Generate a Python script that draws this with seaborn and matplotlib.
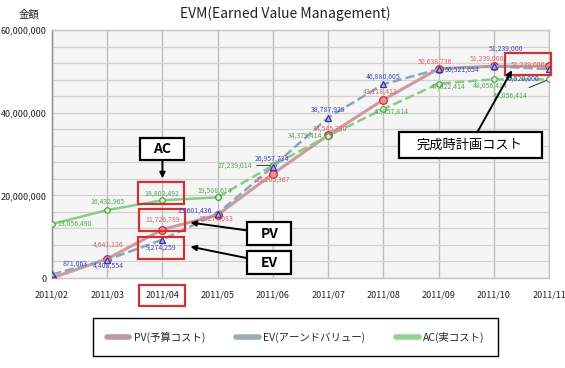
import numpy as np
import pandas as pd
import matplotlib
matplotlib.use("Agg")
import matplotlib.pyplot as plt
from matplotlib.lines import Line2D
from matplotlib.path import Path
from matplotlib.ticker import MultipleLocator, FuncFormatter
from matplotlib.transforms import offset_copy
import seaborn as sns

# ---- data ----
months = ["2011/02", "2011/03", "2011/04", "2011/05", "2011/06",
          "2011/07", "2011/08", "2011/09", "2011/10", "2011/11"]
pv = [0, 4641126, 11726789, 15277083, 25205367, 34545390, 43118413, 50638736, 51239000, 51239000]
ev = [871063, 4408554, 9274259, 15601436, 26957734, 38787929, 46880605, 50521654, 51239000, 50520000]
ac = [13056490, 16432965, 18802492, 19508614, 27239014, 34379414, 40857814, 47022414, 48056414, 48056414]
legend_labels = ["PV(予算コスト)", "EV(アーンドバリュー)", "AC(実コスト)"]

# label offsets in pixels (dx, dy up)
pv_off = [None, (1, 14), (0, 10), (-2, -4), (0, -6), (2, 7), (-3, 8), (-4, 7), (-7, 8), (-21, 2)]
ev_off = [(23, 11), (1, -6), (-1, -8), (-23, 3), (-1, 8), (0, 8), (0, 8), (24, 0), (12, 18), (-27, -9)]
ac_off = [(23, 0), (0, 8), (-1, 7), (-3, 7), (-38, 0), (-23, 0), (8, -3), (10, -3), (-4, -6), (-39, -16)]

PV_LINE, EV_LINE, AC_LINE = "#cf98a2", "#8ea6b6", "#88cc88"
PV_TXT, EV_TXT, AC_TXT = "#e06464", "#4444c4", "#55a855"
RED = "#cc3333"

sns.set_theme(style="whitegrid")
plt.rcParams["font.family"] = ["Noto Sans CJK JP", "DejaVu Sans"]

W, H = 565, 368
fig = plt.figure(figsize=(W / 100, H / 100), dpi=100)
ax = fig.add_axes([52 / W, 90 / H, 497 / W, 248 / H])
ax.set_facecolor("#f5f5f5")

df = pd.DataFrame({"idx": np.arange(len(months)), "PV": pv, "EV": ev, "AC": ac})

sns.lineplot(data=df, x="idx", y="PV", ax=ax, color=PV_LINE, lw=2.2, marker="o",
             ms=5.5, mfc="#f09090", mec="#c83030", mew=0.9, zorder=3)
sns.lineplot(data=df, x="idx", y="EV", ax=ax, color=EV_LINE, lw=1.8, linestyle="--",
             marker="^", ms=5, mfc="#b0b0ec", mec="#3434a8", mew=0.9, zorder=4)
# AC: solid up to 2011/05, dashed afterwards
sns.lineplot(data=df[df.idx <= 3], x="idx", y="AC", ax=ax, color=AC_LINE, lw=1.8,
             marker="o", ms=4, mfc="#d8f0d8", mec="#40a040", mew=0.8, zorder=3)
sns.lineplot(data=df[df.idx >= 3], x="idx", y="AC", ax=ax, color=AC_LINE, lw=1.8,
             linestyle="--", marker="o", ms=4, mfc="#d8f0d8", mec="#40a040", mew=0.8, zorder=3)


def fixed_box(w, h):
    # box of fixed pixel size centred on the text
    def style(x0, y0, width, height, mutation_size):
        cx, cy = x0 + width / 2, y0 + height / 2
        return Path([(cx - w / 2, cy - h / 2), (cx + w / 2, cy - h / 2),
                     (cx + w / 2, cy + h / 2), (cx - w / 2, cy + h / 2),
                     (cx - w / 2, cy - h / 2)], closed=True)
    return style


red_box = dict(boxstyle=fixed_box(46, 22), fc="none", ec=RED, lw=1.6)
boxed = {("PV", 2), ("EV", 2), ("AC", 2), ("PV", 9)}
leaders = {("AC", 4), ("AC", 9)}

for name, vals, offs, col in [("PV", pv, pv_off, PV_TXT), ("EV", ev, ev_off, EV_TXT),
                              ("AC", ac, ac_off, AC_TXT)]:
    for i, v in enumerate(vals):
        if offs[i] is None:
            continue
        kw = {}
        if (name, i) in boxed:
            kw["bbox"] = red_box
        if (name, i) in leaders:
            kw["arrowprops"] = dict(arrowstyle="-", color="#333333", lw=0.7, shrinkA=1, shrinkB=2)
        ax.annotate(f"{v:,}", (i, v), xytext=offs[i], textcoords="offset pixels",
                    ha="center", va="center", fontsize=5, color=col, zorder=6,
                    annotation_clip=False, **kw)

# axes styling
ax.set_xlim(0, len(months) - 1)
ax.set_ylim(0, 60000000)
ax.set_xticks(range(len(months)))
ax.set_xticklabels(months)
ax.set_yticks([0, 20000000, 40000000, 60000000])
ax.yaxis.set_minor_locator(MultipleLocator(4000000))
ax.yaxis.set_major_formatter(FuncFormatter(lambda v, p: f"{int(v):,}"))
ax.grid(which="both", axis="y", color="#d2d2d2", lw=0.9)
ax.grid(which="major", axis="x", color="#bdbdbd", lw=1.0)
ax.tick_params(axis="both", which="both", length=0, labelsize=6.5, colors="#222222")
ax.tick_params(axis="x", pad=9)
ax.tick_params(axis="y", pad=4)
ax.set_xlabel("")
ax.set_ylabel("")
for s in ax.spines.values():
    s.set_color("#c4c4c4")
    s.set_linewidth(1)
ax.spines["left"].set_color("#8a8a8a")
ax.xaxis.get_major_ticks()[2].label1.set_bbox(dict(boxstyle=fixed_box(46, 21), fc="none", ec=RED, lw=1.6))

# callouts
def callout(text, x, y, tdx, tdy, box, tx, ty, fs, weight="bold"):
    trans = offset_copy(ax.transData, fig=fig, x=tdx, y=tdy, units="dots")
    ax.annotate(text, (x, y), xycoords=trans, xytext=(tx, ty), textcoords="offset pixels",
                ha="center", va="center", fontsize=fs, fontweight=weight, color="black",
                zorder=8, annotation_clip=False,
                bbox=dict(boxstyle=fixed_box(*box), fc="white", ec="black", lw=1.6),
                arrowprops=dict(arrowstyle="-|>", color="black", lw=1.4, mutation_scale=8,
                                shrinkA=0, shrinkB=0))


callout("AC", 2, ac[2], 0, 22, (44, 22), 0, 29, 10)
callout("PV", 2, pv[2], 28, 7, (44, 23), 79, -11, 10)
callout("EV", 2, ev[2], 28, -7, (44, 23), 79, -16, 10)
callout("完成時計画コスト", 9, pv[9], -37, -4, (143, 26), -42, -75, 9.5, weight="normal")

fig.text(285 / W, 1 - 14 / H, "EVM(Earned Value Management)", ha="center", va="center",
         fontsize=10, color="#222222")
fig.text(29 / W, 1 - 15 / H, "金額", ha="center", va="center", fontsize=7.5, color="#222222")

handles = [Line2D([], [], color=c, lw=4) for c in ["#bc9aa2", "#9aaeb2", "#92d292"]]
leg = fig.legend(handles, legend_labels, loc="center", ncol=3, mode="expand",
                 bbox_to_anchor=(93 / W, 10 / H, 405 / W, 42 / H), fontsize=7.5,
                 frameon=True, fancybox=False, edgecolor="black", framealpha=1,
                 handlelength=2.2, handletextpad=0.4, borderpad=1.3, borderaxespad=0)
leg.get_frame().set_linewidth(1)

fig.savefig("out.png", dpi=100)
